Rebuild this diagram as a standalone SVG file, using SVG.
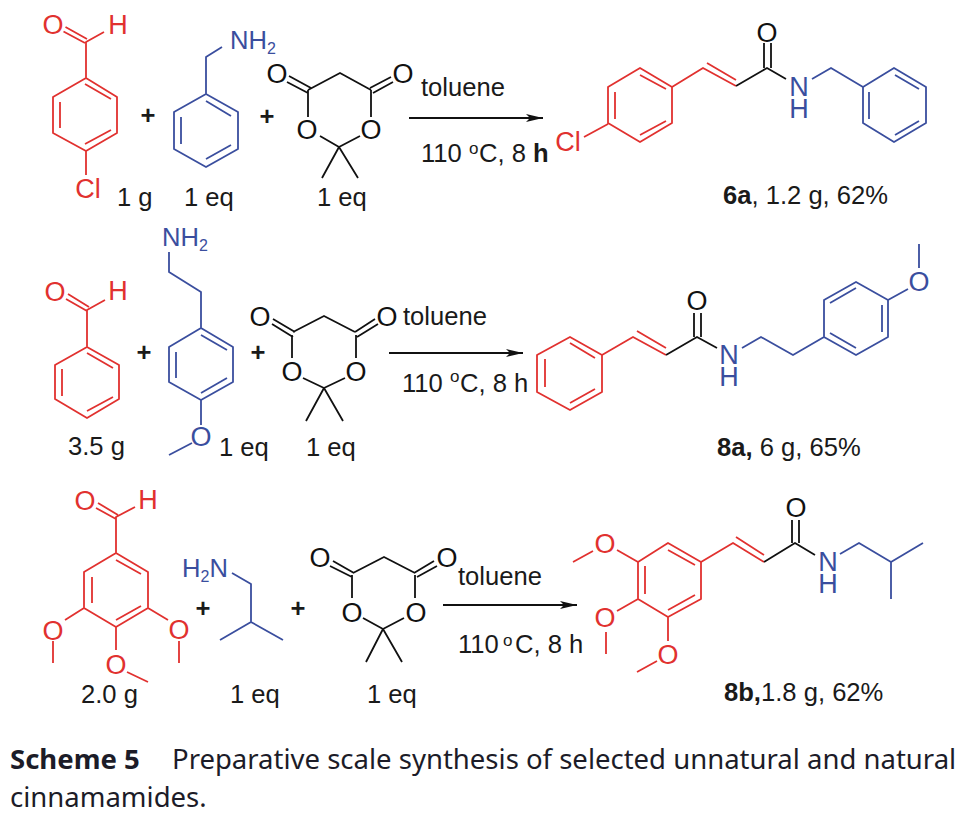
<svg xmlns="http://www.w3.org/2000/svg" width="968" height="818" viewBox="0 0 968 818">
<defs>
<marker id="head" viewBox="0 0 17 8" refX="17" refY="4" markerWidth="17" markerHeight="8" markerUnits="userSpaceOnUse" orient="auto"><path d="M0 0L17 4L0 8L4 4Z" style="fill:#111;stroke:none"/></marker>
</defs>
<style>
text{font-family:"Liberation Sans",Arial,sans-serif;font-size:25.6px;fill:#1a1a1a}
.lab{text-anchor:middle;font-size:27px}
path{fill:none;stroke-width:1.8;stroke-linejoin:round;stroke-linecap:butt}
.r path{stroke:#e1312f}.r text{fill:#e1312f}
.b path{stroke:#3a4e9e}.b text{fill:#3a4e9e}
.k path{stroke:#111}.k text{fill:#111}
.plus{font-weight:bold;text-anchor:middle}
.sup{font-size:17px}
.sub{font-size:16px}
.cap{font-family:"Noto Sans",sans-serif;font-size:27.5px;fill:#1c1c28}
</style>
<rect width="968" height="818" fill="#fff"/>

<g id="connectors">
<path d="M409 118H543" stroke="#111" marker-end="url(#head)" style="stroke:#111"/>
<path d="M389 353H523" stroke="#111" marker-end="url(#head)" style="stroke:#111"/>
<path d="M443 605H577" stroke="#111" marker-end="url(#head)" style="stroke:#111"/>
</g>

<g id="row1-aldehyde" class="r">
<path d="M86 78L117 97V133L86 151L53 133V97ZM85 84L111 99M60 102V128M85 144L111 130M86 78V42L104 32M63.500 31.500L85 43M65.500 27L87 39M86 151V175"/>
<text class="lab" x="53" y="33.500">O</text><text class="lab" x="118" y="33.500">H</text><text class="lab" x="88" y="198">Cl</text>
</g>
<g id="row1-amine" class="b">
<path d="M206 94L238 112V149L206 167L174 149V112ZM206 101L231 116M181 117V144M206 159L231 145M206 94V57L222 47"/>
<text x="230" y="49">NH<tspan class="sub" dy="5">2</tspan></text>
</g>
<g id="row1-meldrum" class="k">
<path d="M308 90L340 73L371 90M308 90V117M371 90V117M320 136L339 147L360 136M339 147L322 178M339 147L358 178M289 76L311 88M287 82L308 93M370 88L391 77M373 93L393 82"/>
<text class="lab" x="277" y="83">O</text><text class="lab" x="403" y="83">O</text><text class="lab" x="307" y="139">O</text><text class="lab" x="371" y="139">O</text>
</g>
<g id="row1-conditions">
<text x="421" y="96">toluene</text>
<text x="421" y="162">110</text><text class="sup" x="469" y="154">o</text><text x="479" y="162">C, 8 <tspan font-weight="bold">h</tspan></text>
<text class="plus" x="148" y="124">+</text><text class="plus" x="267" y="125">+</text>
<text x="117" y="206">1 g</text><text x="184" y="206">1 eq</text><text x="317" y="206">1 eq</text>
</g>
<g id="row1-product">
<g class="r"><path d="M640 68L672 87V123L640 142L608 123V87ZM640 75L666 89M615 92V119M640 135L666 121M672 87L703 68L736 86M707 63L736 80M608 124L584 137"/><text class="lab" x="568" y="151">Cl</text></g>
<g class="k"><path d="M736 86L767 68L786 79M764 68V43M771 68V43"/><text class="lab" x="767" y="42">O</text></g>
<g class="b"><path d="M812 79L831 68L863 87L894 68L926 87V123L894 142L863 123V87M895 75L919 89M869 92V119M895 135L919 121"/><text class="lab" x="799" y="96">N<tspan x="799" dy="22">H</tspan></text></g>
<text x="723" y="204"><tspan font-weight="bold">6a</tspan>, 1.2 g, 62%</text>
</g>

<g id="row2-aldehyde" class="r">
<path d="M87 347L119 365V399L87 418L55 399V365ZM87 353L113 368M62 369V396M87 411L113 397M87 347V310L105 300M66 299L87 311M68 294L89 307"/>
<text class="lab" x="55" y="301">O</text><text class="lab" x="118" y="300">H</text>
</g>
<g id="row2-amine" class="b">
<path d="M201 328L233 347V382L201 400L169 382V347ZM201 335L227 350M176 352V378M201 393L227 378M201 328V292L169 272V252M201 400V425M192 443L169 455"/>
<text x="162" y="246">NH<tspan class="sub" dy="5">2</tspan></text><text class="lab" x="201" y="446">O</text>
</g>
<g id="row2-meldrum" class="k">
<path d="M293 332L324 316L355 332M292 335V358M356 335V358M303 378L324 388L345 378M324 388L306 421M324 388L343 421M273 319L295 332M272 324L293 337M355 332L375 319M357 337L378 324"/>
<text class="lab" x="260" y="326">O</text><text class="lab" x="387" y="326">O</text><text class="lab" x="292" y="381">O</text><text class="lab" x="356" y="381">O</text>
</g>
<g id="row2-conditions">
<text x="403" y="325">toluene</text>
<text x="402" y="392">110</text><text class="sup" x="450" y="382">o</text><text x="460" y="392">C, 8 h</text>
<text class="plus" x="144" y="361">+</text><text class="plus" x="258" y="361">+</text>
<text x="68" y="455">3.5 g</text><text x="219" y="456">1 eq</text><text x="306" y="456">1 eq</text>
</g>
<g id="row2-product">
<g class="r"><path d="M570 337L602 355V392L570 410L537 392V355ZM570 343L595 358M545 359V387M570 403L595 389M602 355L633 337L666 355M637 331L666 348"/></g>
<g class="k"><path d="M666 355L697 337L717 348M694 337V313M701 337V313"/><text class="lab" x="697" y="310">O</text></g>
<g class="b"><path d="M742 348L761 337L793 355L824 337V300L856 282L888 300V337L856 355L824 337M856 288L830 303M882 305V332M856 348L830 333M888 300L908 289M919 268V244"/><text class="lab" x="729" y="364">N<tspan x="729" dy="22">H</tspan></text><text class="lab" x="919" y="291">O</text></g>
<text x="717" y="456"><tspan font-weight="bold">8a,</tspan> 6 g, 65%</text>
</g>

<g id="row3-aldehyde" class="r">
<path d="M116 553L148 572V608L116 627L84 608V572ZM116 560L141 574M92 577V603M116 620L141 606M116 553V517L135 507M96 508L116 519M98 503L118 515M84 608L65 620M53 641V663M148 608L168 620M179 641V663M116 627V650M127 672L148 682"/>
<text class="lab" x="85" y="510">O</text><text class="lab" x="148" y="509">H</text><text class="lab" x="53" y="640">O</text><text class="lab" x="179" y="639">O</text><text class="lab" x="116" y="674">O</text>
</g>
<g id="row3-amine" class="b">
<path d="M232 573L251 584V622L220 640M251 622L283 640"/>
<text x="182" y="577">H<tspan class="sub" dy="5">2</tspan><tspan dy="-5">N</tspan></text>
</g>
<g id="row3-meldrum" class="k">
<path d="M353 573L384 557L415 573M352 575V598M415 575V598M363 618L383 629L404 618M383 629L366 662M383 629L402 662M333 561L354 573M330 566L352 577M414 573L434 561M417 577L437 566"/>
<text class="lab" x="320" y="567">O</text><text class="lab" x="447" y="567">O</text><text class="lab" x="352" y="622">O</text><text class="lab" x="416" y="622">O</text>
</g>
<g id="row3-conditions">
<text x="458" y="585">toluene</text>
<text x="458" y="653">110</text><text class="sup" x="503" y="646">o</text><text x="515" y="653">C, 8 h</text>
<text class="plus" x="203" y="617">+</text><text class="plus" x="298" y="617">+</text>
<text x="81" y="703">2.0 g</text><text x="230" y="703">1 eq</text><text x="367" y="703">1 eq</text>
</g>
<g id="row3-product">
<g class="r"><path d="M701 562L668 543L638 562V599L668 617L701 599ZM668 550L695 565M645 566V594M668 610L695 595M701 562L733 543L764 562M736 537L764 555M638 562L617 550M593 551L573 562M638 599L617 611M606 632V654M668 617V641M657 661L637 672"/><text class="lab" x="605" y="553">O</text><text class="lab" x="605" y="627">O</text><text class="lab" x="668" y="664">O</text></g>
<g class="k"><path d="M764 562L795 543L815 555M792 543V520M799 543V520"/><text class="lab" x="796" y="517">O</text></g>
<g class="b"><path d="M840 554L859 543L891 562L923 543M891 562V599"/><text class="lab" x="828" y="571">N<tspan x="828" dy="22">H</tspan></text></g>
<text x="724" y="701"><tspan font-weight="bold">8b,</tspan>1.8 g, 62%</text>
</g>

<g id="caption">
<text class="cap" x="10" y="769" style="font-weight:700">Scheme 5</text>
<text class="cap" x="172" y="769">Preparative scale synthesis of selected unnatural and natural</text>
<text class="cap" x="10" y="807">cinnamamides.</text>
</g>
</svg>
